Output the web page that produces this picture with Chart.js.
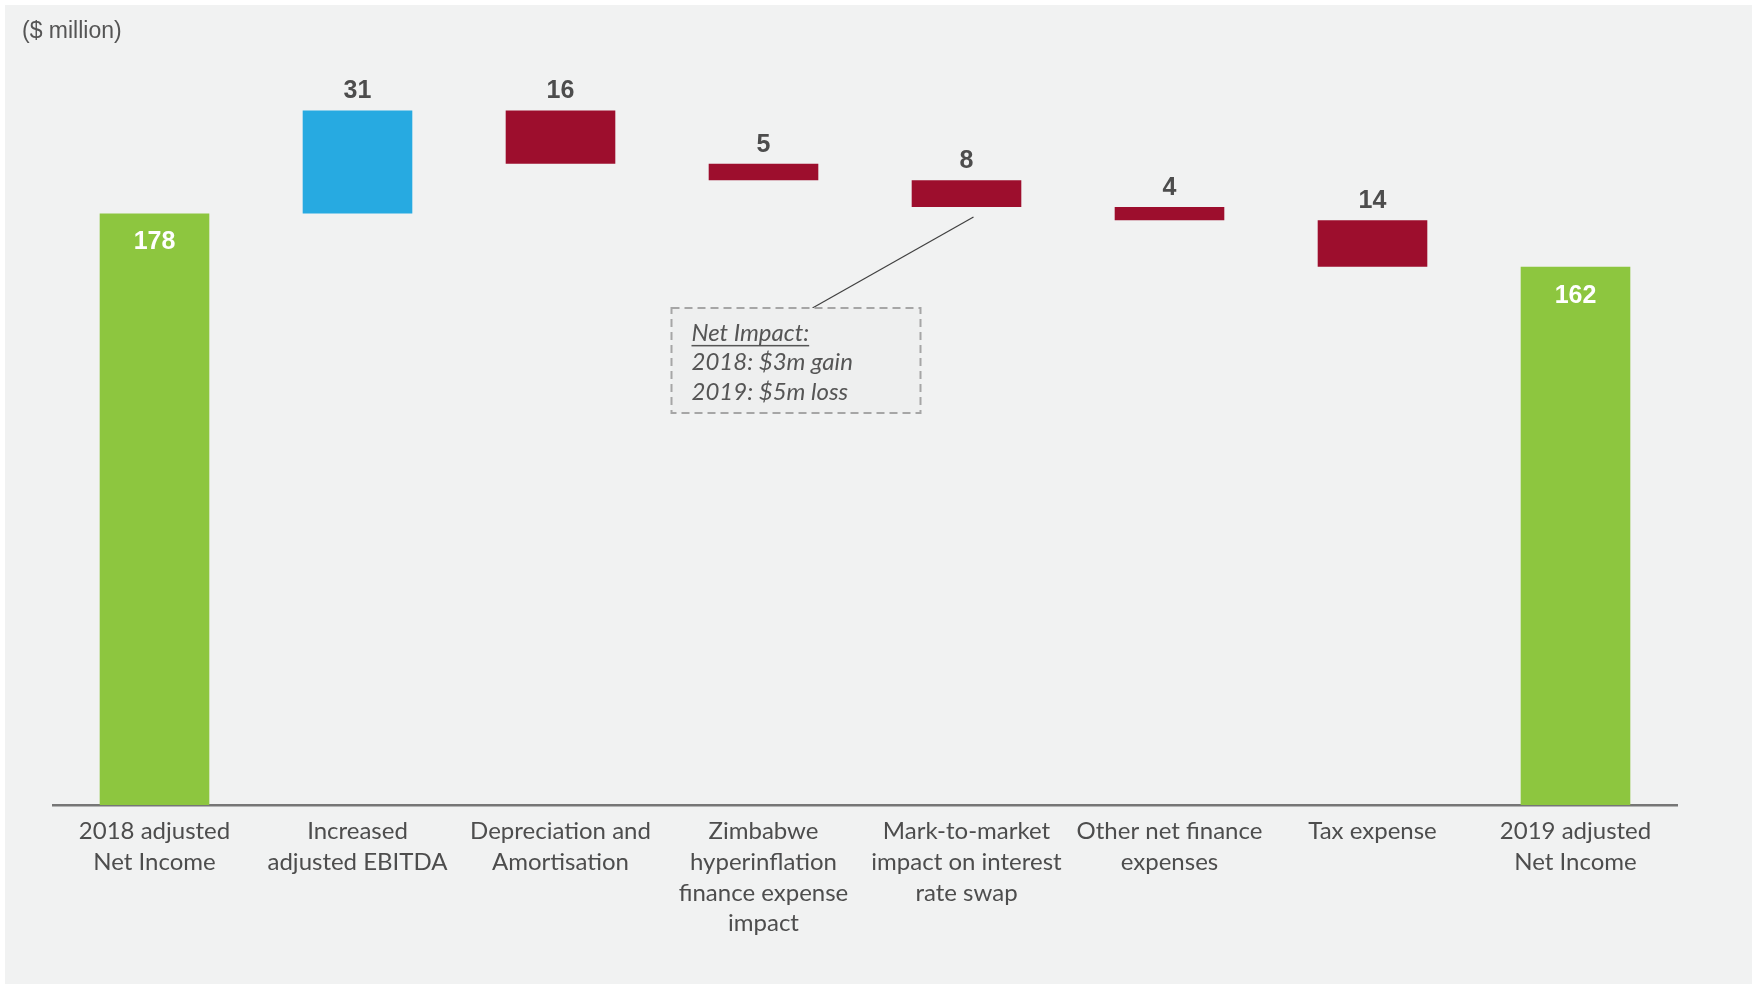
<!DOCTYPE html>
<html>
<head>
<meta charset="utf-8">
<script src="https://cdn.jsdelivr.net/npm/chart.js@4.4.1/dist/chart.umd.min.js"></script>
<style>
  html, body { margin: 0; padding: 0; background: #ffffff; }
  #wrap { width: 1752px; height: 984px; position: relative; }
</style>
</head>
<body>
<div id="wrap"><canvas id="chart" width="1752" height="984"></canvas></div>
<script>
// Bridge 2018 -> 2019 adjusted net income ($ million)
const categories = [
  ['2018 adjusted', 'Net Income'],
  ['Increased', 'adjusted EBITDA'],
  ['Depreciation and', 'Amortisation'],
  ['Zimbabwe', 'hyperinflation', 'finance expense', 'impact'],
  ['Mark-to-market', 'impact on interest', 'rate swap'],
  ['Other net finance', 'expenses'],
  ['Tax expense'],
  ['2019 adjusted', 'Net Income']
];
const startValue = 178;
const deltas = [31, -16, -5, -8, -4, -14];
const endValue = 162;
const yMax = 220;

const unitLabel = '($ million)';
const noteLines = ['Net Impact:', '2018: $3m gain', '2019: $5m loss'];

const GREEN = '#8dc63f';
const BLUE = '#27aae1';
const RED = '#9d0e2d';
const TEXT = '#4d4d4d';

// floating ranges for the waterfall
const ranges = [];
const colors = [];
const labels = [];
ranges.push([0, startValue]);
colors.push(GREEN);
labels.push(String(startValue));
let run = startValue;
deltas.forEach((d) => {
  ranges.push([run, run + d]);
  colors.push(d >= 0 ? BLUE : RED);
  labels.push(String(Math.abs(d)));
  run += d;
});
ranges.push([0, endValue]);
colors.push(GREEN);
labels.push(String(endValue));

const panelPlugin = {
  id: 'panelBg',
  beforeDraw(chart) {
    const { ctx, width, height } = chart;
    ctx.save();
    ctx.fillStyle = '#ffffff';
    ctx.fillRect(0, 0, width, height);
    ctx.fillStyle = '#f1f2f2';
    ctx.fillRect(5, 5, width - 5, height - 5);
    ctx.font = '23px "Liberation Sans", Arial, sans-serif';
    ctx.fillStyle = '#555555';
    ctx.textAlign = 'left';
    ctx.textBaseline = 'middle';
    ctx.fillText(unitLabel, 22, 32);
    ctx.restore();
  }
};

const valueLabelPlugin = {
  id: 'valueLabels',
  afterDatasetsDraw(chart) {
    const meta = chart.getDatasetMeta(0);
    const { ctx } = chart;
    ctx.save();
    ctx.font = 'bold 25px "Liberation Sans", Arial, sans-serif';
    ctx.textAlign = 'center';
    ctx.textBaseline = 'middle';
    meta.data.forEach((bar, i) => {
      const top = Math.min(bar.y, bar.base);
      const isTotal = i === 0 || i === meta.data.length - 1;
      if (isTotal) {
        ctx.fillStyle = '#ffffff';
        ctx.fillText(labels[i], bar.x, top + 29);
      } else {
        ctx.fillStyle = TEXT;
        ctx.fillText(labels[i], bar.x, top - 19);
      }
    });
    ctx.restore();
  }
};

const notePlugin = {
  id: 'swapNote',
  afterDraw(chart) {
    const { ctx } = chart;
    const x = chart.scales.x;
    const y = chart.scales.y;
    const swapBar = chart.getDatasetMeta(0).data[4];
    const bx = x.getPixelForValue(3) + 32 - 124;
    const by = y.getPixelForValue(149.6);
    const bw = 249;
    const bh = 105;

    // leader line
    ctx.save();
    ctx.strokeStyle = '#404040';
    ctx.lineWidth = 1.2;
    ctx.beginPath();
    ctx.moveTo(bx + 141, by);
    ctx.lineTo(swapBar.x + 7, Math.max(swapBar.y, swapBar.base) + 10);
    ctx.stroke();

    // dashed box
    ctx.fillStyle = '#eeefef';
    ctx.fillRect(bx, by, bw, bh);
    ctx.setLineDash([8, 5]);
    ctx.strokeStyle = '#a6a6a6';
    ctx.lineWidth = 2;
    ctx.strokeRect(bx, by, bw, bh);
    ctx.setLineDash([]);

    ctx.font = 'italic 24px Lato, "Open Sans", sans-serif';
    ctx.fillStyle = '#555555';
    ctx.textAlign = 'left';
    ctx.textBaseline = 'middle';
    noteLines.forEach((t, i) => {
      const ty = by + 25 + i * 29.5;
      ctx.fillText(t, bx + 20, ty);
      if (i === 0) {
        const w = ctx.measureText(t).width;
        ctx.fillRect(bx + 20, ty + 12, w, 1.5);
      }
    });
    ctx.restore();
  }
};

new Chart(document.getElementById('chart'), {
  type: 'bar',
  plugins: [panelPlugin, valueLabelPlugin, notePlugin],
  data: {
    labels: categories,
    datasets: [{
      data: ranges,
      backgroundColor: colors,
      borderWidth: 0,
      borderSkipped: false,
      barPercentage: 0.54,
      categoryPercentage: 1
    }]
  },
  options: {
    responsive: false,
    animation: false,
    events: [],
    layout: { padding: { left: 53, right: 75, top: 74, bottom: 0 } },
    plugins: { legend: { display: false }, tooltip: { enabled: false } },
    scales: {
      x: {
        offset: true,
        grid: { display: false, drawTicks: false },
        border: { display: true, color: '#767676', width: 2.5 },
        ticks: {
          autoSkip: false,
          maxRotation: 0,
          padding: 11,
          color: TEXT,
          font: { family: 'Lato, "Open Sans", sans-serif', size: 24, lineHeight: 1.28 }
        },
        afterFit(scale) { scale.height = 179; }
      },
      y: {
        display: false,
        min: 0,
        max: yMax
      }
    }
  }
});
</script>
</body>
</html>
